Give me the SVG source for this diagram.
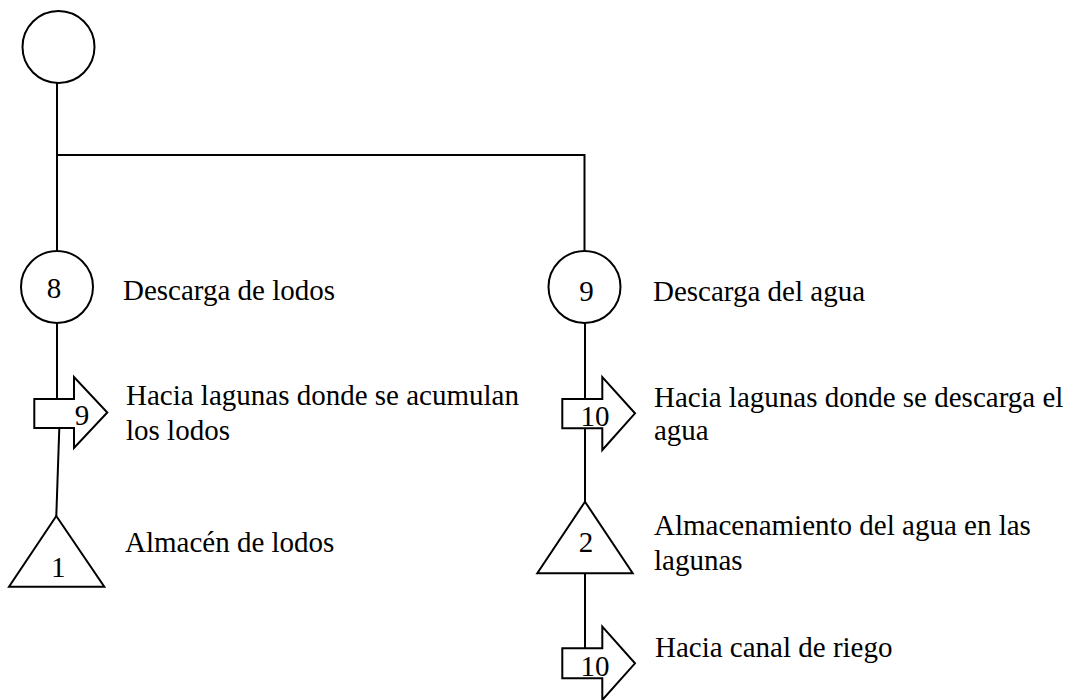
<svg xmlns="http://www.w3.org/2000/svg" width="1075" height="700" viewBox="0 0 1075 700">
<style>
.s{fill:#fff;stroke:#000;stroke-width:2}
.c{fill:none;stroke:#000;stroke-width:2}
.t{font-family:"Liberation Serif","Times New Roman",serif;font-size:29px;fill:#000}
.n{font-family:"Liberation Serif","Times New Roman",serif;font-size:29px;fill:#000;text-anchor:middle}
</style>
<g id="connectors">
<path class="c" d="M57,83 V251 M57,155 H584.5 V251"/>
<path class="c" d="M57,323 V399"/>
<path class="c" d="M59.3,428 L56.3,516"/>
<path class="c" d="M585,323 V399 M585,428 V502 M585,573 V648"/>
</g>
<g id="start"><circle class="s" cx="58.5" cy="47" r="36"/></g>
<g id="op8">
<circle class="s" cx="57" cy="287" r="36"/>
<text class="n" x="54" y="298">8</text>
<text class="t" x="123" y="300">Descarga de lodos</text>
</g>
<g id="tr9">
<polygon class="s" points="34.3,399 74,399 74,377 107.3,412.5 74,448 74,428 34.3,428"/>
<text class="n" x="82" y="425">9</text>
<text class="t" x="126" y="405">Hacia lagunas donde se acumulan</text>
<text class="t" x="126" y="440">los lodos</text>
</g>
<g id="st1">
<polygon class="s" points="56.3,516 104.3,586.7 9,586.7"/>
<text class="n" x="58.3" y="577">1</text>
<text class="t" x="125" y="552">Almacén de lodos</text>
</g>
<g id="op9">
<circle class="s" cx="584.5" cy="287" r="36"/>
<text class="n" x="586.5" y="301">9</text>
<text class="t" x="653" y="301">Descarga del agua</text>
</g>
<g id="tr10a">
<polygon class="s" points="562.3,399 602.3,399 602.3,377 635,413.3 602.3,450 602.3,428.3 562.3,428.3"/>
<text class="n" x="595" y="426">10</text>
<text class="t" x="654" y="407">Hacia lagunas donde se descarga el</text>
<text class="t" x="654" y="440">agua</text>
</g>
<g id="st2">
<polygon class="s" points="585,501.7 632.7,573.3 537.3,573.3"/>
<text class="n" x="586" y="552">2</text>
<text class="t" x="654" y="535">Almacenamiento del agua en las</text>
<text class="t" x="654" y="570">lagunas</text>
</g>
<g id="tr10b">
<polygon class="s" points="562.3,648.3 602.3,648.3 602.3,626.7 635,663.3 602.3,700 602.3,678.3 562.3,678.3"/>
<text class="n" x="595" y="676">10</text>
<text class="t" x="655" y="657">Hacia canal de riego</text>
</g>
</svg>
